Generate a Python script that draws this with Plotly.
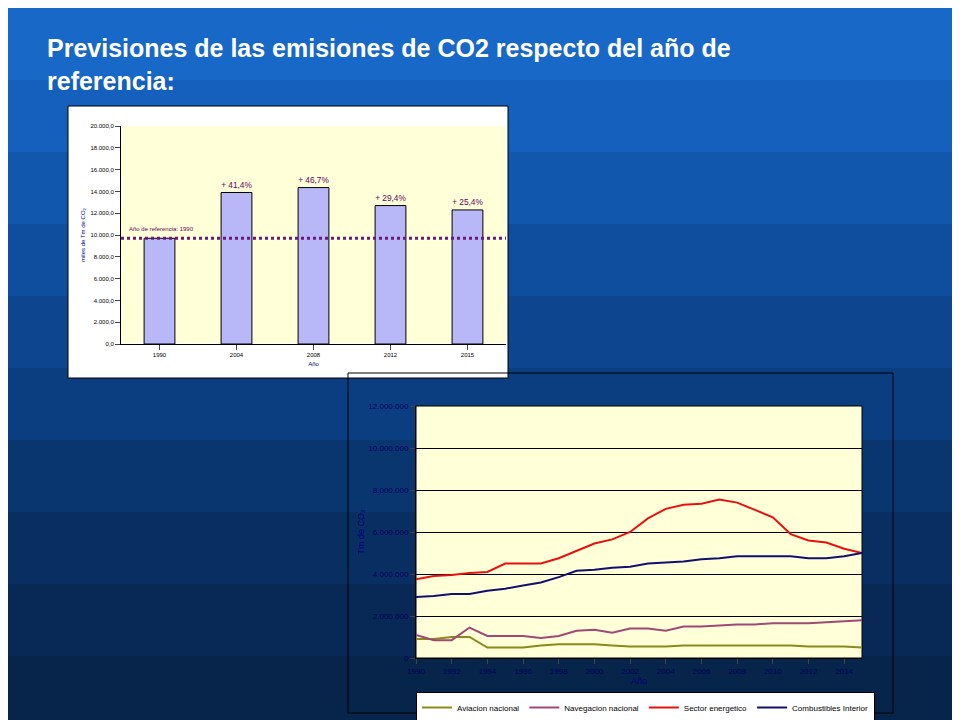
import plotly.graph_objects as go

bar_years = ["1990", "2004", "2008", "2012", "2015"]
bar_values = [9700, 13900, 14350, 12700, 12300]
bar_labels = ["", "+ 41,4%", "+ 46,7%", "+ 29,4%", "+ 25,4%"]
ref_value = 9700

years = list(range(1990, 2016))
aviacion = [0.9,0.9,1.0,1.0,0.5,0.5,0.5,0.6,0.65,0.65,0.65,0.6,0.55,0.55,0.55,0.6,0.6,0.6,0.6,0.6,0.6,0.6,0.55,0.55,0.55,0.5]
navegacion = [1.1,0.85,0.85,1.45,1.05,1.05,1.05,0.95,1.05,1.3,1.35,1.2,1.4,1.4,1.3,1.5,1.5,1.55,1.6,1.6,1.65,1.65,1.65,1.7,1.75,1.8]
sector = [3.75,3.9,3.95,4.05,4.1,4.5,4.5,4.5,4.75,5.1,5.45,5.65,6.0,6.65,7.1,7.3,7.35,7.55,7.4,7.05,6.7,5.9,5.6,5.5,5.2,5.0]
combustibles = [2.9,2.95,3.05,3.05,3.2,3.3,3.45,3.6,3.85,4.15,4.2,4.3,4.35,4.5,4.55,4.6,4.7,4.75,4.85,4.85,4.85,4.85,4.75,4.75,4.85,5.0]

fig = go.Figure()

def P(x0, y0, x1, y1):
    return dict(xref="paper", yref="paper", x0=x0/960, x1=x1/960, y0=1-y1/720, y1=1-y0/720)

shapes = []
cols = ["#1868c8", "#1560bc", "#1257ae", "#0f4e9e", "#0d468f", "#0b3e80", "#0a3670", "#092f62", "#082955", "#07244a"]
n = len(cols)
for i, c in enumerate(cols):
    shapes.append(dict(type="rect", xref="paper", yref="paper", x0=0, x1=1,
                       y0=1 - (i + 1) / n, y1=1 - i / n, fillcolor=c, line_width=0, layer="below"))
shapes.append(dict(type="rect", **P(60, 98, 500, 370), fillcolor="white", line=dict(color="black", width=1), layer="below"))
shapes.append(dict(type="rect", **P(113, 118, 498, 336), fillcolor="#ffffd8", line_width=0, layer="below"))
shapes.append(dict(type="rect", **P(340, 365, 885, 705), fillcolor="rgba(0,0,0,0)", line=dict(color="black", width=1), layer="below"))
shapes.append(dict(type="rect", **P(408, 398, 854, 650), fillcolor="#ffffd8", line=dict(color="black", width=1), layer="below"))

fig.add_trace(go.Bar(x=bar_years, y=bar_values, text=bar_labels, textposition="outside",
                     textfont=dict(color="#660066", size=9), cliponaxis=False,
                     marker=dict(color="#b8b8f8", line=dict(color="black", width=1)),
                     width=0.4, xaxis="x", yaxis="y", showlegend=False))
fig.add_trace(go.Scatter(x=[-0.5, 4.5], y=[ref_value, ref_value], mode="lines",
                         line=dict(color="#6a1a7a", width=3, dash="dot"),
                         xaxis="x3", yaxis="y", showlegend=False, hoverinfo="skip"))

series = [("Aviacion nacional", aviacion, "#8a8a1a"),
          ("Navegacion nacional", navegacion, "#a04878"),
          ("Sector energetico", sector, "#e81010"),
          ("Combustibles Interior", combustibles, "#101070")]
for name, vals, c in series:
    fig.add_trace(go.Scatter(x=years, y=[v * 1e6 for v in vals], name=name, mode="lines",
                             line=dict(color=c, width=2), xaxis="x2", yaxis="y2"))

fig.update_layout(
    width=960, height=720, margin=dict(l=0, r=0, t=0, b=0, autoexpand=False),
    paper_bgcolor="#0d468f", plot_bgcolor="rgba(0,0,0,0)", separators=",.", shapes=shapes,
    font=dict(family="Arial, Liberation Sans", size=6, color="black"),
    xaxis=dict(domain=[113/960, 498/960], anchor="y", type="category", showline=True, linecolor="black",
               ticks="outside", title=dict(text="Año", font=dict(color="#000080", size=6), standoff=4),
               tickfont=dict(size=6), automargin=False),
    xaxis3=dict(domain=[113/960, 498/960], anchor="y", overlaying="x", range=[-0.5, 4.5], visible=False),
    yaxis=dict(domain=[1-336/720, 1-118/720], range=[0, 20000], dtick=2000, tickformat=",.1f",
               showline=True, linecolor="black", ticks="outside", showgrid=False, automargin=False,
               title=dict(text="miles de Tm de CO₂", font=dict(color="#000080", size=6), standoff=4),
               tickfont=dict(size=6)),
    xaxis2=dict(domain=[408/960, 854/960], anchor="y2", range=[1990, 2015], dtick=2, automargin=False,
                showline=True, linecolor="black", ticks="outside", showgrid=False,
                tickfont=dict(size=8, color="#000060"),
                title=dict(text="Año", font=dict(color="#000080", size=9), standoff=2)),
    yaxis2=dict(domain=[1-650/720, 1-398/720], anchor="x2", range=[0, 12e6], dtick=2e6, tickformat=",d",
                showline=True, linecolor="black", ticks="outside", gridcolor="black", gridwidth=1,
                automargin=False, tickfont=dict(size=8, color="#000060"),
                title=dict(text="Tm de CO₂", font=dict(color="#000080", size=9), standoff=2)),
    legend=dict(orientation="h", x=(437+838)/2/960, xanchor="center", y=1-684/720, yanchor="top",
                bgcolor="white", bordercolor="black", borderwidth=1, font=dict(size=8),
                itemwidth=30, tracegroupgap=0),
    annotations=[
        dict(text="<b>Previsiones de las emisiones de CO2 respecto del año de<br>referencia:</b>",
             xref="paper", yref="paper", x=37/960, y=1-24/720, xanchor="left", yanchor="top",
             align="left", showarrow=False, font=dict(family="Arial, Liberation Sans", size=25, color="white")),
        dict(text="Año de referencia: 1990", xref="paper", yref="paper", x=119/960, y=1-221/720,
             xanchor="left", yanchor="middle", showarrow=False, font=dict(size=6, color="#660066")),
    ],
)
fig.write_html("out.html")
